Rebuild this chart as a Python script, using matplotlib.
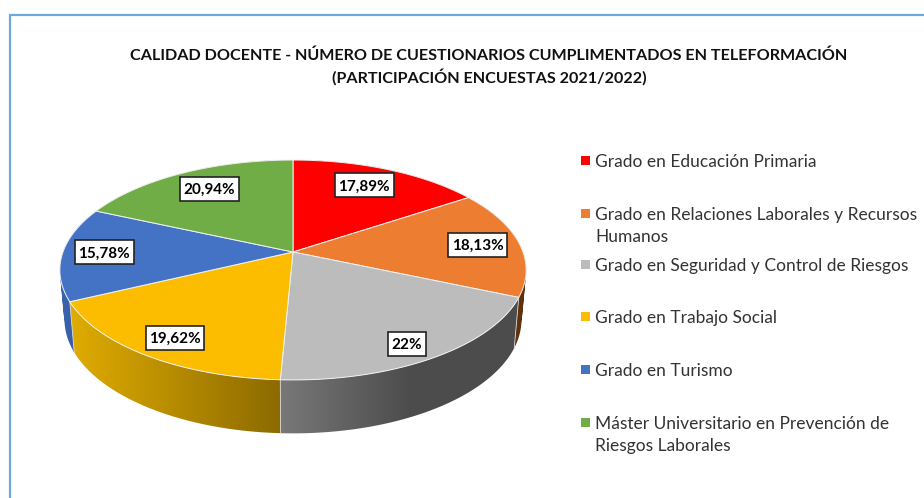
import matplotlib
matplotlib.use("Agg")
import matplotlib.pyplot as plt
from matplotlib.patches import Polygon, Rectangle, PathPatch
from matplotlib.path import Path
import numpy as np

# Data (the labels do not add up to 100, the slices are normalised)
categories = ["Grado en Educación Primaria",
              "Grado en Relaciones Laborales y Recursos\nHumanos",
              "Grado en Seguridad y Control de Riesgos",
              "Grado en Trabajo Social",
              "Grado en Turismo",
              "Máster Universitario en Prevención de\nRiesgos Laborales"]
values = [17.89, 18.13, 22, 19.62, 15.78, 20.94]
value_labels = ["17,89%", "18,13%", "22%", "19,62%", "15,78%", "20,94%"]
colors = ["#ff0000", "#ed7d31", "#bcbcbc", "#fcbd00", "#4472c4", "#70ad47"]

title_text = "CALIDAD DOCENTE - NÚMERO DE CUESTIONARIOS CUMPLIMENTADOS EN TELEFORMACIÓN\n(PARTICIPACIÓN ENCUESTAS 2021/2022)"

# Side wall shading, colour at left and right of each slice
wall_left = ["#7a0000", "#6e3a10", "#787878", "#e0ac00", "#3b64ad", "#4d7a30"]
wall_right = ["#7a0000", "#5e300c", "#4c4c4c", "#8c6a00", "#3258a0", "#4d7a30"]
wall_flat = [1, 1, 0.55, 1, 1, 1]  # part of the width used by the gradient

plt.rcParams["font.family"] = ["Lato", "DejaVu Sans"]

fig = plt.figure(figsize=(9.24, 4.98), dpi=100)
ax = fig.add_axes([0, 0, 1, 1])
ax.set_xlim(0, 924)
ax.set_ylim(498, 0)
ax.axis("off")

# Perspective projection of the pie disc
cx, cy = 293, 252
rx, ry = 230, 107
k = 0.1636
cx2, cy2 = 293, 301
rx2, ry2 = 225.4, 110.7


def top_point(angle, r=1.0):
    u, v = r * np.sin(angle), r * np.cos(angle)
    den = 1 + k * v
    return cx + rx * u / den, cy - ry * v / den


def bottom_point(angle):
    u, v = np.sin(angle), np.cos(angle)
    den = 1 + k * v
    return cx2 + rx2 * u / den, cy2 - ry2 * v / den


def mix(c1, c2, t):
    a = np.array(matplotlib.colors.to_rgb(c1))
    b = np.array(matplotlib.colors.to_rgb(c2))
    return a + (b - a) * t


def wall_path(angles):
    # union of small quads, all turned the same way so the fill has no holes
    parts = []
    for a1, a2 in zip(angles[:-1], angles[1:]):
        q = np.array([top_point(a1), top_point(a2), bottom_point(a2), bottom_point(a1)])
        area = np.sum(q[:, 0] * np.roll(q[:, 1], -1) - np.roll(q[:, 0], -1) * q[:, 1])
        if area < 0:
            q = q[::-1]
        parts.append(Path(np.vstack([q, q[:1]]), closed=True))
    return Path.make_compound_path(*parts)


fractions = np.array(values) / sum(values)
edges = np.concatenate([[0], np.cumsum(fractions)]) * 2 * np.pi

# Side walls first, a horizontal gradient image clipped to the wall shape
for i in range(len(values)):
    angles = np.linspace(edges[i], edges[i + 1], 200)
    path = wall_path(angles)
    x_low, x_high = path.vertices[:, 0].min(), path.vertices[:, 0].max()
    t = np.clip(np.linspace(0, 1, 256) / wall_flat[i], 0, 1)
    gradient = np.array([[mix(wall_left[i], wall_right[i], v) for v in t]])
    wall = PathPatch(path, facecolor="none", edgecolor="none", transform=ax.transData)
    ax.add_patch(wall)
    im = ax.imshow(gradient, extent=(x_low, x_high, 498, 0), aspect="auto", zorder=2,
                   interpolation="bilinear")
    im.set_clip_path(wall)
ax.set_xlim(0, 924)
ax.set_ylim(498, 0)

# Line between two walls in front
for i in range(1, len(values)):
    if np.cos(edges[i]) < 0:
        t, b = top_point(edges[i]), bottom_point(edges[i])
        ax.plot([t[0], b[0]], [t[1], b[1]], color="#d8d8d8", linewidth=0.6, zorder=3)

# Top face
for i in range(len(values)):
    angles = np.linspace(edges[i], edges[i + 1], 120)
    pts = [(cx, cy)] + [top_point(a) for a in angles]
    ax.add_patch(Polygon(pts, closed=True, facecolor=colors[i], edgecolor="#f2f2f2",
                         linewidth=0.7, zorder=4))

# Value labels inside the slices, box drawn from the size of the text
label_radius = [0.76, 0.82, 0.84, 0.825, 0.817, 0.74]
label_dx = [-3, -1, -2, 0, -0.5, 0.7]
label_dy = [-2, 0.5, 5.7, 3, -0.7, -3]
fig.canvas.draw()
renderer = fig.canvas.get_renderer()
for i in range(len(values)):
    lx, ly = top_point((edges[i] + edges[i + 1]) / 2, label_radius[i])
    lx, ly = lx + label_dx[i], ly + label_dy[i]
    txt = ax.text(lx, ly + 1, value_labels[i], ha="center", va="center", fontsize=11, fontweight="bold",
                  color="black", zorder=7)
    w = txt.get_window_extent(renderer).width + 7
    ax.add_patch(Rectangle((lx - w / 2, ly - 12), w, 24, facecolor="white", edgecolor="#222222",
                           linewidth=1.2, zorder=6))

# Title
ax.text(489, 67, title_text, ha="center", va="center", fontsize=11.6, fontweight="bold",
        color="#111111", linespacing=1.35)

# Legend
legend_y = [162, 226, 266, 318, 371, 435]
for i in range(len(categories)):
    first_line_y = legend_y[i] - 11 if "\n" in categories[i] else legend_y[i]
    ax.add_patch(Rectangle((581, first_line_y - 6), 9, 9, facecolor=colors[i], edgecolor="none", zorder=5))
    ax.text(595, legend_y[i], categories[i], ha="left", va="center", fontsize=12.5,
            color="#333333", linespacing=1.5)

# Frame of the original chart, cut at right and bottom
ax.plot([9.5, 9.5, 924], [498, 14.5, 14.5], color="#6ea6de", linewidth=1.6, solid_joinstyle="miter", zorder=1)

fig.savefig("out.png", dpi=100)
